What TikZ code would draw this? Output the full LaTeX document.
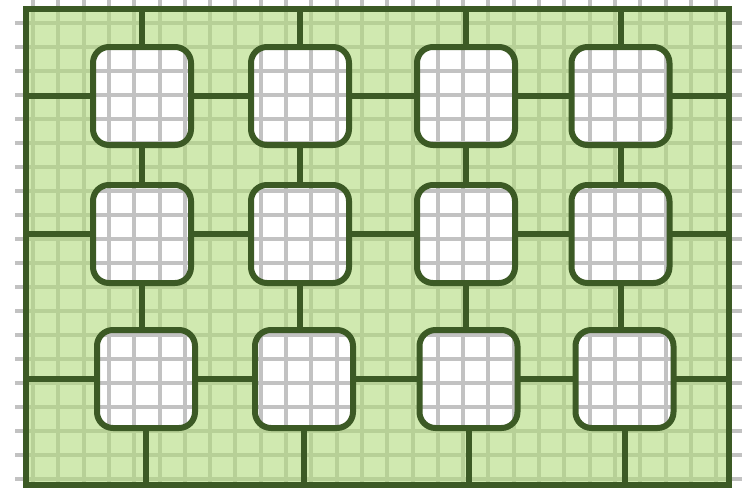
\documentclass[tikz,border=0pt]{standalone}
\usetikzlibrary{backgrounds}
\definecolor{boardgreen}{HTML}{B1DA7B}
\definecolor{wiregreen}{HTML}{3C5A25}
\definecolor{gridgray}{HTML}{C2C2C2}
\begin{document}
\begin{tikzpicture}[x=1pt,y=-1pt]
\tikzset{board/.style={draw=wiregreen,line width=6pt,minimum width=703pt,minimum height=475.5pt,inner sep=0pt,outer sep=0pt}}
\tikzset{chip/.style={draw=wiregreen,line width=6pt,rounded corners=16pt,minimum width=98pt,minimum height=98pt,inner sep=0pt,outer sep=0pt}}
\tikzset{wire/.style={draw=wiregreen,line width=6pt}}
\tikzset{gridline/.style={draw=gridgray,line width=4pt}}
\useasboundingbox (0,0) rectangle (744,488);
\node[board] (board) at (377,246.75) {};
\node[chip] (c11) at (142,96) {};
\node[chip] (c12) at (300,96) {};
\node[chip] (c13) at (466,96) {};
\node[chip] (c14) at (620.5,96) {};
\node[chip] (c21) at (142,234) {};
\node[chip] (c22) at (300,234) {};
\node[chip] (c23) at (466,234) {};
\node[chip] (c24) at (620.5,234) {};
\node[chip] (c31) at (146,379) {};
\node[chip] (c32) at (304,379) {};
\node[chip] (c33) at (468.5,379) {};
\node[chip] (c34) at (624.5,379) {};
\foreach \r in {1,2,3} {
  \draw[wire] (board.west |- c\r1) -- (c\r1.west);
  \draw[wire] (c\r1.east) -- (c\r2.west);
  \draw[wire] (c\r2.east) -- (c\r3.west);
  \draw[wire] (c\r3.east) -- (c\r4.west);
  \draw[wire] (c\r4.east) -- (board.east |- c\r4);
}
\foreach \c in {1,2,3,4} {
  \draw[wire] (c1\c.north) -- (board.north -| c1\c);
  \draw[wire] (c1\c.south) -- (c2\c.north);
  \draw[wire] (c2\c.south) -- (c2\c.south |- c3\c.north);
  \draw[wire] (c3\c.south) -- (board.south -| c3\c);
}
\begin{pgfonlayer}{background}
\foreach \y in {0,...,19}
  \draw[gridline] (15,{23+24*\y}) -- (742,{23+24*\y});
\foreach \x in {0,...,27}
  \draw[gridline] ({33+25.3*\x},0) -- ({33+25.3*\x},488);
\fill[boardgreen,fill opacity=0.6,even odd rule] (board.north west) rectangle (board.south east)
  [rounded corners=16pt] foreach \c in {c11,c12,c13,c14,c21,c22,c23,c24,c31,c32,c33,c34} {(\c.north west) rectangle (\c.south east)};
\end{pgfonlayer}
\end{tikzpicture}
\end{document}
